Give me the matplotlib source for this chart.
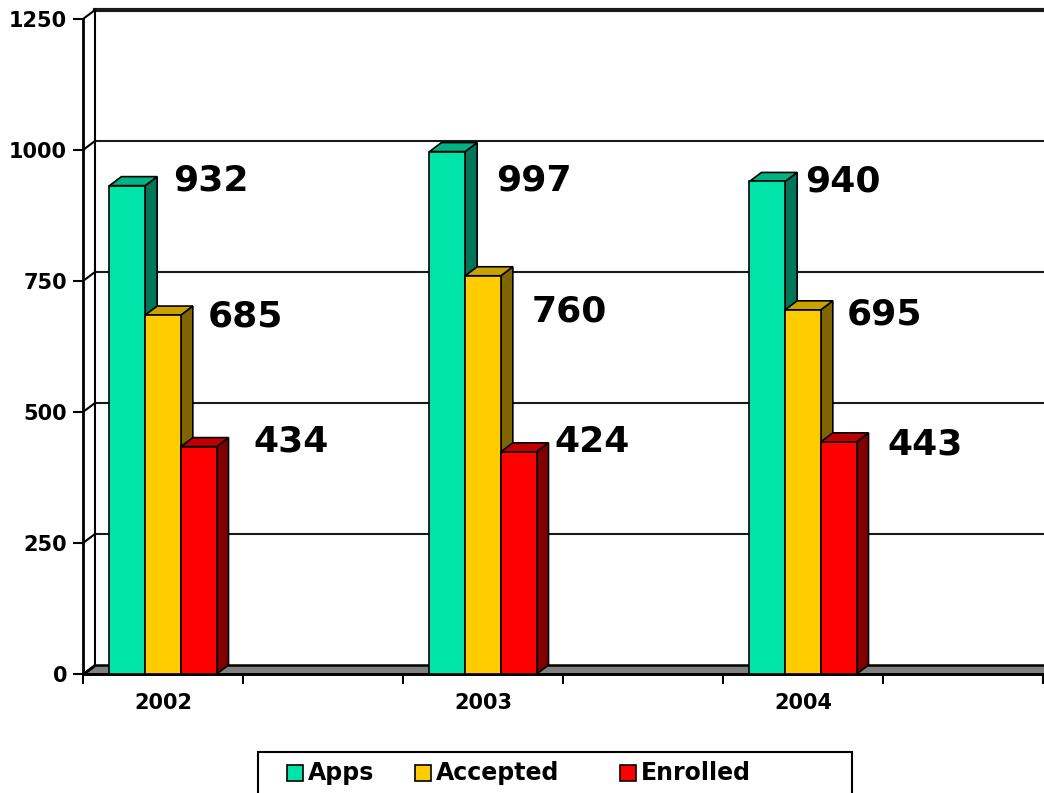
import matplotlib.pyplot as plt
from matplotlib.patches import Polygon, Rectangle
import numpy as np

plt.rcParams['font.family'] = 'DejaVu Sans'
plt.rcParams['font.weight'] = 'bold'

years = ['2002', '2003', '2004']
series = ['Apps', 'Accepted', 'Enrolled']
apps = [932, 997, 940]
accepted = [685, 760, 695]
enrolled = [434, 424, 443]
values = [apps, accepted, enrolled]

front_colors = ['#00E3A9', '#FFCC00', '#FF0000']
top_colors = ['#00B386', '#C9A200', '#C00000']
side_colors = ['#007656', '#806600', '#800000']

# where the data labels were dragged to in the original (px from bar's top right corner)
label_dx = [[30, 29, 39], [33, 33, 20], [22, 28, 33]]
label_dy = [[8, 2, 8], [-26, -33, 13], [3, -2, 0]]

W, H = 1044, 793
fig = plt.figure(figsize=(W / 100, H / 100), dpi=100)
ax = fig.add_axes([83 / W, (H - 674) / H, 960 / W, 655 / H])
ymax = 1250
nslots = 2 * len(years)  # the sheet had an empty column after each year
ax.set_xlim(-0.5, nslots - 0.5)
ax.set_ylim(0, ymax)

# depth of the fake 3d view in data units
DX = 12 / 160
DY = 9 * ymax / 655
bw = 0.223
PT = 0.72  # px -> pt

yticks = np.arange(0, ymax + 1, 250)
x0 = -0.5
x1 = nslots - 0.5 + 2 * DX

# back wall grid
for v in yticks[1:]:
    lw = 3 if v == ymax else 1.5
    ax.plot([x0 + DX, x1], [v + DY, v + DY], color='#1a1a1a', lw=lw, clip_on=False, zorder=1)
for v in yticks:
    ax.plot([x0, x0 + DX], [v, v + DY], color='black', lw=1.5, clip_on=False, zorder=1)
ax.plot([x0 + DX, x0 + DX], [DY, ymax + DY], color='black', lw=1.5, clip_on=False, zorder=1)

# floor
floor = Polygon([(x0, 0), (x1, 0), (x1, DY), (x0 + DX, DY)], closed=True,
                facecolor='#808080', edgecolor='black', lw=1.8, zorder=2, clip_on=False)
ax.add_patch(floor)

# bars
x = np.arange(len(years)) * 2
z = 5
for j in range(len(years)):
    for i in range(len(series)):
        h = values[i][j]
        left = x[j] + (i - 1.5) * bw
        right = left + bw
        front = Rectangle((left, 0), bw, h, facecolor=front_colors[i], edgecolor='black', lw=1.2, zorder=z)
        top = Polygon([(left, h), (right, h), (right + DX, h + DY), (left + DX, h + DY)], closed=True,
                      facecolor=top_colors[i], edgecolor='black', lw=1.2, zorder=z)
        side = Polygon([(right, 0), (right + DX, DY), (right + DX, h + DY), (right, h)], closed=True,
                       facecolor=side_colors[i], edgecolor='black', lw=1.2, zorder=z)
        for p in (side, top, front):
            p.set_clip_on(False)
            ax.add_patch(p)
        z += 1
        ax.annotate(str(h), xy=(right, h),
                    xytext=((label_dx[j][i] - 2) * PT, (label_dy[j][i] - 13) * PT),
                    textcoords='offset points', ha='left', va='baseline',
                    fontsize=26, fontweight='bold', color='black', zorder=30)

# axes
for s in ['top', 'right']:
    ax.spines[s].set_visible(False)
ax.spines['left'].set_linewidth(2)
ax.spines['bottom'].set_linewidth(2)
ax.spines['left'].set_zorder(3)
ax.spines['bottom'].set_zorder(3)

ax.set_yticks(yticks)
ax.tick_params(axis='y', length=7, width=1.5, pad=4.5, labelsize=15)
ax.set_xticks(np.arange(-0.5, nslots, 1), minor=True)
ax.set_xticks(x)
ax.set_xticklabels(years)
ax.tick_params(axis='x', which='major', length=0, pad=14, labelsize=15)
ax.tick_params(axis='x', which='minor', length=7, width=1.5)
for lab in ax.get_xticklabels() + ax.get_yticklabels():
    lab.set_fontweight('bold')

# legend box
fig.add_artist(Rectangle((258 / W, 1 - 800 / H), (852 - 258) / W, 48 / H, transform=fig.transFigure,
                         fill=False, edgecolor='black', lw=1.5))
legend_x = [287, 415, 620]
for i, name in enumerate(series):
    fig.add_artist(Rectangle((legend_x[i] / W, 1 - 781 / H), 16 / W, 16 / H, transform=fig.transFigure,
                             facecolor=front_colors[i], edgecolor='black', lw=1.2))
    fig.text((legend_x[i] + 21) / W, 1 - 773 / H, name, fontsize=17, fontweight='bold',
             ha='left', va='center')

fig.savefig('out.png', dpi=100)
